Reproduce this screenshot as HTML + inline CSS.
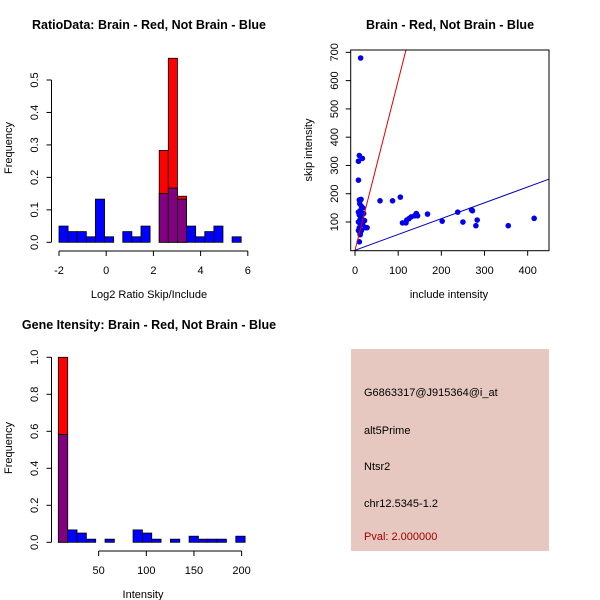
<!DOCTYPE html>
<html><head><meta charset="utf-8"><style>
html,body{margin:0;padding:0;background:#fff;}
svg{display:block;font-family:"Liberation Sans",sans-serif;}
.t{font-weight:bold;font-size:12.5px;}
.l{font-size:11px;}
.k{font-size:11px;}
</style></head><body>
<svg id="c" width="600" height="600" viewBox="0 0 600 600">
<rect width="600" height="600" fill="#fff"/>
<text class="t" x="149" y="29" text-anchor="middle">RatioData: Brain - Red, Not Brain - Blue</text>
<text class="t" x="450" y="29" text-anchor="middle">Brain - Red, Not Brain - Blue</text>
<text class="t" x="149" y="329" text-anchor="middle">Gene Itensity: Brain - Red, Not Brain - Blue</text>
<g>
<rect x="351" y="349" width="198" height="202" fill="#e6c8c0"/>
<text class="l" x="364" y="396">G6863317@J915364@i_at</text>
<text class="l" x="364" y="434">alt5Prime</text>
<text class="l" x="364" y="470">Ntsr2</text>
<text class="l" x="364" y="507">chr12.5345-1.2</text>
<text class="l" x="364" y="540" fill="#a00000">Pval: 2.000000</text>
</g>
</svg>
<script>
// ---- Histogram 1 data ----
const ratioBinStart = [-2,-1.614,-1.228,-0.842,-0.456,-0.07,0.316,0.702,1.088,1.474,1.86,2.246,2.632,3.018,3.404,3.79,4.176,4.562,4.948,5.334];
const ratioBinWidth = 0.386;
const ratioBlue = [0.05,0.033,0.033,0.017,0.133,0.017,0,0.033,0.017,0.05,0,0.15,0.167,0.133,0.05,0.017,0.033,0.05,0,0.017];
const ratioRed = [0,0,0,0,0,0,0,0,0,0,0,0.283,0.567,0.142,0,0,0,0,0,0];
const ratioXTicks = [-2,0,2,4,6];
const ratioYTicks = [0,0.1,0.2,0.3,0.4,0.5];
// ---- Scatter data ----
const includeI = [13,10,17,8,8,10,14,11,15,18,12,8,20,10,15,12,22,8,12,18,10,25,28,8,15,12,12,10,58,87,105,110,118,120,125,130,138,142,145,168,202,238,250,270,272,280,283,355,415];
const skipI = [680,335,325,315,248,178,180,165,155,150,140,135,130,125,120,110,105,100,95,90,80,80,80,70,70,60,55,30,175,175,188,97,97,107,112,118,122,130,122,128,103,135,100,143,140,87,107,87,113];
const redSlope = 6.0;
const blueSlope = 0.56;
const scXTicks = [0,100,200,300,400];
const scYTicks = [100,200,300,400,500,600,700];
// ---- Histogram 2 data ----
const intBinStart = [7.7,17.5,27.3,37.1,46.9,56.7,66.5,76.3,86.1,95.9,105.7,115.5,125.3,135.1,144.9,154.7,164.5,174.3,184.1,193.9];
const intBinWidth = 9.8;
const intBlue = [0.583,0.067,0.05,0.017,0,0.017,0,0,0.067,0.05,0.017,0,0.017,0,0.033,0.017,0.017,0.017,0,0.033];
const intRed = [1.0,0,0,0,0,0,0,0,0,0,0,0,0,0,0,0,0,0,0,0];
const intXTicks = [50,100,150,200];
const intYTicks = [0,0.2,0.4,0.6,0.8,1.0];

const NS="http://www.w3.org/2000/svg";
const svg=document.getElementById('c');
function mk(tag,attrs,parent,text){const e=document.createElementNS(NS,tag);for(const k in attrs)e.setAttribute(k,attrs[k]);if(text!==undefined)e.textContent=text;(parent||svg).appendChild(e);return e;}
function grp(name){const g=mk('g',{});


return g;}
function fmt(v){return String(v);}

// ---------- Histogram 1 ----------
(function(){
const x=v=>59+(v+2)*23.6, y=v=>242.3-v*324.6;
const bars=grp('ratio-bars');
for(let i=0;i<ratioBinStart.length;i++){
 if(ratioRed[i]>0){const r=mk('rect',{x:x(ratioBinStart[i]),y:y(ratioRed[i]),width:ratioBinWidth*23.6,height:ratioRed[i]*324.6,fill:'#ff0000',stroke:'#000','stroke-width':0.8},bars);
 
 }
}
for(let i=0;i<ratioBinStart.length;i++){
 if(ratioBlue[i]>0){const r=mk('rect',{x:x(ratioBinStart[i]),y:y(ratioBlue[i]),width:ratioBinWidth*23.6,height:ratioBlue[i]*324.6,fill:ratioRed[i]>0?'#800080':'#0000ff',stroke:'#000','stroke-width':0.8},bars);
 
 }
}
const ax=grp('ratio-x-axis');
mk('line',{x1:x(ratioXTicks[0]),x2:x(ratioXTicks[ratioXTicks.length-1]),y1:251,y2:251,stroke:'#000'},ax);
ratioXTicks.forEach(t=>{mk('line',{x1:x(t),x2:x(t),y1:251,y2:256,stroke:'#000'},ax);mk('text',{x:x(t),y:274,'text-anchor':'middle',class:'k'},ax,fmt(t));});
const ay=grp('ratio-y-axis');
mk('line',{x1:51.5,x2:51.5,y1:y(0),y2:y(0.5),stroke:'#000'},ay);
ratioYTicks.forEach(t=>{mk('line',{x1:46.5,x2:51.5,y1:y(t),y2:y(t),stroke:'#000'},ay);mk('text',{x:0,y:0,'text-anchor':'middle',class:'k',transform:`translate(38,${y(t)}) rotate(-90)`},ay,t.toFixed(1));});
const xl=mk('text',{x:149,y:298,'text-anchor':'middle',class:'k'},svg,'Log2 Ratio Skip/Include');


const yl=mk('text',{x:0,y:0,'text-anchor':'middle',class:'k',transform:'translate(12,148) rotate(-90)'},svg,'Frequency');


})();

// ---------- Scatter ----------
(function(){
const x=v=>355+v*0.4317, y=v=>250.3-v*0.2828;
const L=350.7,R=549,T=50,B=250.7;
const cp=mk('clipPath',{id:'scclip'});mk('rect',{x:L,y:T,width:R-L,height:B-T},cp);
const pts=grp('scatter-points');
for(let i=0;i<includeI.length;i++){const c=mk('circle',{cx:x(includeI[i]),cy:y(skipI[i]),r:2.8,fill:'#0000ee'},pts);

}
const lines=grp('reference-lines');lines.setAttribute('clip-path','url(#scclip)');
const rl=mk('line',{x1:x(-10),y1:y(-10*redSlope),x2:x(200),y2:y(200*redSlope),stroke:'#dd0000','stroke-width':1},lines);


const bl=mk('line',{x1:x(-10),y1:y(-10*blueSlope),x2:x(500),y2:y(500*blueSlope),stroke:'#0000bb','stroke-width':1},lines);


const box=mk('rect',{x:L,y:T,width:R-L,height:B-T,fill:'none',stroke:'#000'});


const ax=grp('scatter-x-axis');
scXTicks.forEach(t=>{mk('line',{x1:x(t),x2:x(t),y1:B,y2:B+5,stroke:'#000'},ax);mk('text',{x:x(t),y:274,'text-anchor':'middle',class:'k'},ax,fmt(t));});
const ay=grp('scatter-y-axis');
scYTicks.forEach(t=>{mk('line',{x1:L-5,x2:L,y1:y(t),y2:y(t),stroke:'#000'},ay);mk('text',{x:0,y:0,'text-anchor':'middle',class:'k',transform:`translate(338,${y(t)}) rotate(-90)`},ay,fmt(t));});
const xl=mk('text',{x:449,y:298,'text-anchor':'middle',class:'k'},svg,'include intensity');


const yl=mk('text',{x:0,y:0,'text-anchor':'middle',class:'k',transform:'translate(312,150) rotate(-90)'},svg,'skip intensity');


})();

// ---------- Histogram 2 ----------
(function(){
const x=v=>51+v*0.953, y=v=>542.3-v*185;
const bars=grp('intensity-bars');
for(let i=0;i<intBinStart.length;i++){
 if(intRed[i]>0){const r=mk('rect',{x:x(intBinStart[i]),y:y(intRed[i]),width:intBinWidth*0.953,height:intRed[i]*185,fill:'#ff0000',stroke:'#000','stroke-width':0.8},bars);
 
 }
}
for(let i=0;i<intBinStart.length;i++){
 if(intBlue[i]>0){const r=mk('rect',{x:x(intBinStart[i]),y:y(intBlue[i]),width:intBinWidth*0.953,height:intBlue[i]*185,fill:intRed[i]>0?'#800080':'#0000ff',stroke:'#000','stroke-width':0.8},bars);
 
 }
}
const ax=grp('intensity-x-axis');
mk('line',{x1:x(intXTicks[0]),x2:x(intXTicks[intXTicks.length-1]),y1:551,y2:551,stroke:'#000'},ax);
intXTicks.forEach(t=>{mk('line',{x1:x(t),x2:x(t),y1:551,y2:556,stroke:'#000'},ax);mk('text',{x:x(t),y:574,'text-anchor':'middle',class:'k'},ax,fmt(t));});
const ay=grp('intensity-y-axis');
mk('line',{x1:51.5,x2:51.5,y1:y(0),y2:y(1),stroke:'#000'},ay);
intYTicks.forEach(t=>{mk('line',{x1:46.5,x2:51.5,y1:y(t),y2:y(t),stroke:'#000'},ay);mk('text',{x:0,y:0,'text-anchor':'middle',class:'k',transform:`translate(38,${y(t)}) rotate(-90)`},ay,t.toFixed(1));});
const xl=mk('text',{x:143,y:598,'text-anchor':'middle',class:'k'},svg,'Intensity');


const yl=mk('text',{x:0,y:0,'text-anchor':'middle',class:'k',transform:'translate(12,448) rotate(-90)'},svg,'Frequency');


})();
</script>
</body></html>
